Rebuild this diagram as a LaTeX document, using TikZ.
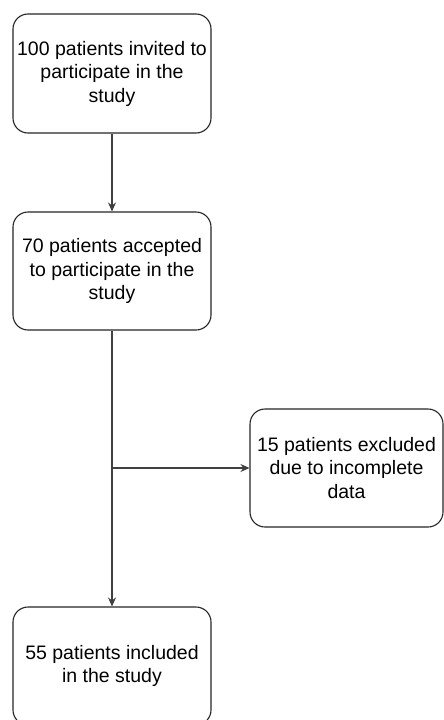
\documentclass[tikz,border=0pt]{standalone}
\usepackage{fontspec}
\setmainfont{Liberation Sans}
\usetikzlibrary{arrows.meta}
\begin{document}
\begin{tikzpicture}[x=1pt,y=-1pt,
  box/.style={draw=black!85, line width=1.1pt, rounded corners=15pt, fill=white,
    align=center, inner sep=0pt, font=\fontsize{19.5}{23.5}\selectfont},
  conn/.style={draw=black!75, line width=1.1pt, -{Stealth[length=9pt,width=8pt]}}]
\useasboundingbox (0,0) rectangle (444,720);
\fill[white] (0,0) rectangle (444,720);
\node[box, minimum width=198pt, minimum height=119pt] (b1) at (112,73.5)
  {100 patients invited to\\participate in the\\study};
\node[box, minimum width=198pt, minimum height=118pt] (b2) at (112,271)
  {70 patients accepted\\to participate in the\\study};
\node[box, minimum width=193pt, minimum height=118pt] (b3) at (346.5,468)
  {15 patients excluded\\due to incomplete\\data};
\node[box, minimum width=198pt, minimum height=118pt] (b4) at (112,666)
  {55 patients included\\in the study};
\coordinate (br) at (b2.south |- b3.west);
\draw[conn] (b1) -- (b2);
\draw[conn] (b2) -- (b4);
\draw[conn] (br) -- (b3);
\end{tikzpicture}
\end{document}
